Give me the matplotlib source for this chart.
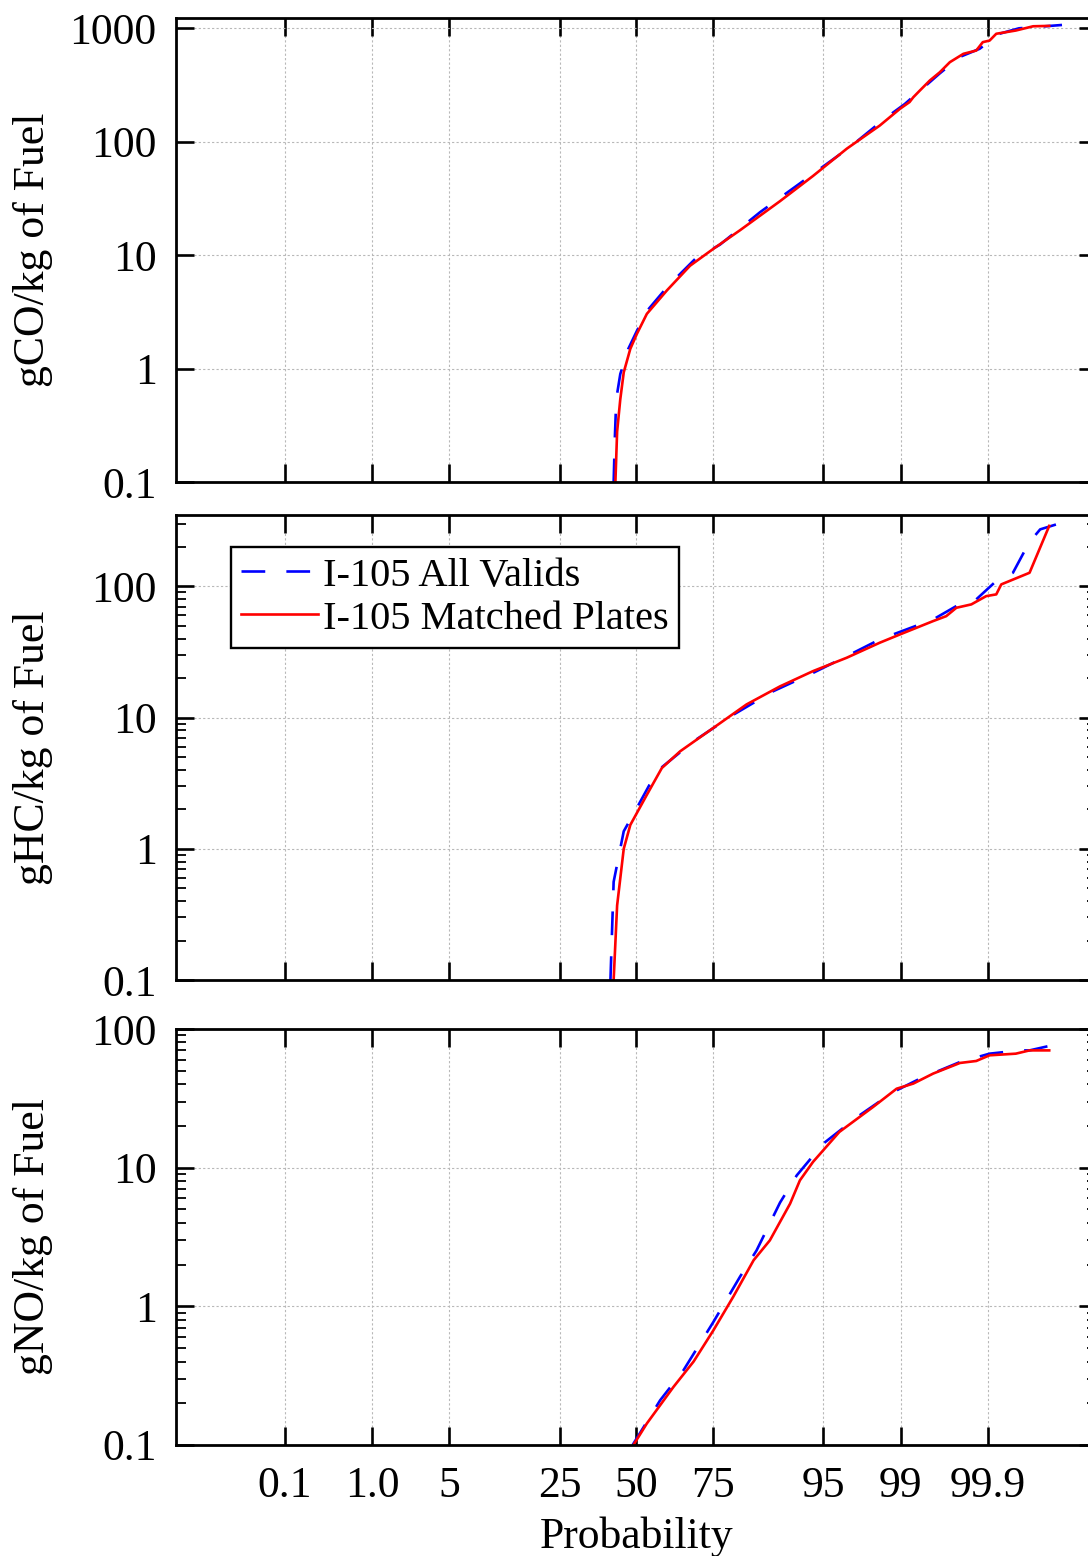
import numpy as np
import matplotlib
matplotlib.use("Agg")
import matplotlib.pyplot as plt
from matplotlib.ticker import LogLocator, FixedLocator, NullLocator, FuncFormatter, NullFormatter
from statistics import NormalDist

# ---------------- data ----------------
prob_ticks = [0.1, 1.0, 5, 25, 50, 75, 95, 99, 99.9]
prob_tick_labels = ["0.1", "1.0", "5", "25", "50", "75", "95", "99", "99.9"]

series_labels = ["I-105 All Valids", "I-105 Matched Plates"]
ylabels = ["gCO/kg of Fuel", "gHC/kg of Fuel", "gNO/kg of Fuel"]

co_all_prob = [42.1, 42.5, 43.0, 44.4, 47.2, 49.7, 53.5, 61.1, 69.8, 76.9, 86.2, 92.5,
               97.0, 98.56, 99.09, 99.62, 99.78, 99.874, 99.930, 99.962, 99.991]
co_all_val = [0.1, 0.24, 0.54, 0.90, 1.5, 2.03, 3.18, 5.4, 9.3, 12.4, 24, 43,
              90, 160, 215, 400, 560, 660, 895, 1000, 1070]
co_match_prob = [42.7, 43.3, 44.4, 45.6, 47.9, 50.2, 53.7, 60.6, 68.2, 75.1, 81.9, 89.7,
                 94.0, 96.8, 98.39, 98.98, 99.19, 99.26, 99.37, 99.51, 99.62, 99.71,
                 99.80, 99.861, 99.885, 99.906, 99.923, 99.958, 99.976, 99.986]
co_match_val = [0.1, 0.28, 0.54, 0.93, 1.5, 2.03, 3.05, 4.9, 8.1, 11.4, 16.6, 30,
                50, 87, 139, 195, 224, 247, 283, 347, 409, 503,
                596, 637, 755, 780, 895, 956, 1042, 1050]

hc_all_prob = [41.0, 42.1, 45.6, 50.2, 57.2, 69.3, 80.3, 88.6, 94.0, 96.8, 98.39, 99.55,
               99.757, 99.861, 99.919, 99.954, 99.970, 99.976, 99.981, 99.991]
hc_all_val = [0.1, 0.56, 1.36, 2.05, 3.9, 6.6, 10.5, 15.9, 21.9, 29.4, 39.4, 56,
              70.8, 79.6, 107, 127, 197, 235, 272, 306]
hc_match_prob = [42.1, 43.3, 45.6, 47.9, 53.7, 58.9, 65.0, 75.1, 83.4, 89.7, 94.0, 96.8,
                 98.39, 98.98, 99.55, 99.68, 99.757, 99.840, 99.896, 99.923, 99.934,
                 99.973, 99.986]
hc_match_val = [0.1, 0.37, 1.0, 1.52, 2.58, 4.13, 5.53, 8.34, 12.6, 17.3, 22.6, 28.6,
                37.2, 43, 54.4, 59.3, 68.7, 72.9, 84.3, 86.9, 103.6, 127, 289]

no_all_prob = [48.7, 58.3, 66.1, 75.1, 81.9, 85.5, 89.7, 92.1, 95.0, 97.4, 98.81, 99.37,
               99.78, 99.906, 99.963, 99.973, 99.990]
no_all_val = [0.1, 0.21, 0.346, 0.77, 1.63, 2.53, 5.6, 8.8, 14.9, 23.2, 35.1, 43.8,
              57.8, 66.4, 70.1, 70.1, 78.3]
no_match_prob = [49.0, 53.7, 62.8, 69.3, 75.1, 80.3, 84.9, 88.0, 91.2, 92.5, 94.0, 96.3,
                 98.14, 98.90, 99.26, 99.55, 99.78, 99.861, 99.906, 99.958, 99.973, 99.986]
no_match_val = [0.1, 0.143, 0.262, 0.40, 0.67, 1.17, 2.15, 2.99, 5.5, 8.1, 11.0, 18.1,
                27.4, 37.1, 40.4, 47.7, 56.9, 58.8, 64.6, 66.4, 70.1, 70.1]

ylims = [(0.1, 1225), (0.1, 350), (0.1, 100)]

# ---------------- helpers ----------------
_nd = NormalDist()


def prob_to_z(p):
    return np.array([_nd.inv_cdf(v / 100.0) for v in p])


plt.rcParams["font.family"] = ["Liberation Serif", "DejaVu Serif"]
plt.rcParams["mathtext.fontset"] = "stix"

W, H = 1088, 1556
fig = plt.figure(figsize=(W / 100, H / 100), dpi=100)

left = 176 / W
width = (1096.6 - 176) / W
boxes = [(18.3, 482.3), (515, 980), (1029, 1445)]

panels = [
    (co_all_prob, co_all_val, co_match_prob, co_match_val),
    (hc_all_prob, hc_all_val, hc_match_prob, hc_match_val),
    (no_all_prob, no_all_val, no_match_prob, no_match_val),
]

FS = 31.5
axes = []
for i, ((top, bot), data) in enumerate(zip(boxes, panels)):
    ax = fig.add_axes([left, 1 - bot / H, width, (bot - top) / H])
    axes.append(ax)
    ap, av, mp, mv = data
    l1, = ax.plot(prob_to_z(ap), av, color="#0000ff", lw=1.9,
                  linestyle=(0, (9, 8)), label=series_labels[0])
    l2, = ax.plot(prob_to_z(mp), mv, color="#ff0000", lw=1.9,
                  linestyle="-", label=series_labels[1])
    ax.set_yscale("log")
    ax.set_ylim(*ylims[i])
    ax.set_xlim(-4.05, 4.05)

    ax.xaxis.set_major_locator(FixedLocator(list(prob_to_z(prob_ticks))))
    ax.xaxis.set_minor_locator(NullLocator())
    if i == 2:
        ax.set_xticklabels(prob_tick_labels)
        ax.set_xlabel("Probability", fontsize=FS, labelpad=8)
    else:
        ax.xaxis.set_major_formatter(NullFormatter())

    ax.yaxis.set_major_locator(LogLocator(base=10, numticks=10))
    ax.yaxis.set_major_formatter(FuncFormatter(lambda v, pos: "%g" % v))
    if i == 0:
        ax.yaxis.set_minor_locator(NullLocator())
    else:
        ax.yaxis.set_minor_locator(LogLocator(base=10, subs=np.arange(2, 10), numticks=20))
        ax.yaxis.set_minor_formatter(NullFormatter())

    ax.tick_params(which="major", direction="in", length=13, width=1.9,
                   top=True, right=True, labelsize=FS, pad=14)
    ax.tick_params(which="minor", direction="in", length=7, width=1.3,
                   top=True, right=True)
    ax.tick_params(axis="x", which="major", pad=15)

    ax.grid(True, which="major", color="#b8b8b8", linestyle=(0, (2, 2)), lw=0.8)
    for s in ax.spines.values():
        s.set_linewidth(2.0)

    ax.set_ylabel(ylabels[i], fontsize=FS)
    ax.yaxis.set_label_coords(-0.134, 0.5)

    if i == 1:
        leg = ax.legend(handles=[l1, l2], loc="upper left",
                        bbox_to_anchor=(0.0598, 0.931), borderaxespad=0,
                        fontsize=29.2, frameon=True, fancybox=False,
                        handlelength=1.9, handletextpad=0.12,
                        borderpad=0.25, labelspacing=0.14)
        fr = leg.get_frame()
        fr.set_edgecolor("black")
        fr.set_linewidth(1.7)
        fr.set_alpha(1)

fig.savefig("out.png", dpi=100)
